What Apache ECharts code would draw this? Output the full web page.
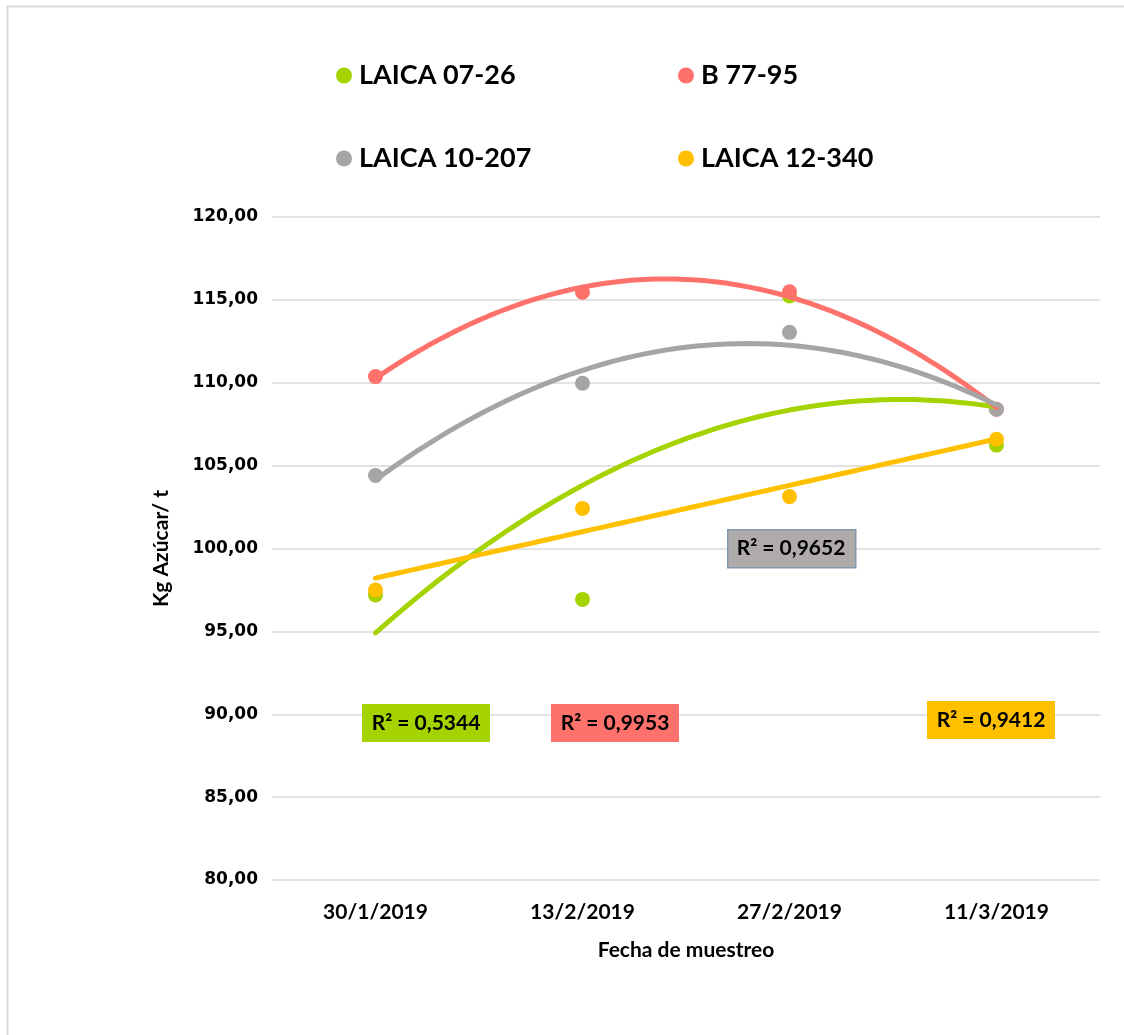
<!DOCTYPE html>
<html>
<head>
<meta charset="utf-8">
<script src="https://cdn.jsdelivr.net/npm/echarts@6/dist/echarts.min.js"></script>
<style>
  html, body { margin: 0; padding: 0; background: #fff; overflow: hidden; }
  #chart { width: 1124px; height: 1035px; }
</style>
</head>
<body>
<div id="chart"></div>
<script>
// fechas de muestreo
var fechas = ["30/1/2019", "13/2/2019", "27/2/2019", "11/3/2019"];
// Kg azúcar / t por variedad
var laica0726 = [97.2, 96.93, 115.23, 106.24];
var b7795 = [110.37, 115.46, 115.49, 108.4];
var laica10207 = [104.4, 109.97, 113.04, 108.4];
var laica12340 = [97.5, 102.42, 103.13, 106.59];
var nombres = ["LAICA 07-26", "B 77-95", "LAICA 10-207", "LAICA 12-340"];
var colores = ["#a5d300", "#ff716b", "#a5a5a5", "#ffc000"];
var r2 = ["R² = 0,5344", "R² = 0,9953", "R² = 0,9652", "R² = 0,9412"];
var yTicks = { min: 80, max: 120, interval: 5 };

// ajuste por mínimos cuadrados (como la línea de tendencia de Excel)
function ajuste(ys, grado) {
  var n = grado + 1, A = [], b = [];
  for (var i = 0; i < n; i++) {
    A.push([]);
    b.push(0);
    for (var j = 0; j < n; j++) {
      var s = 0;
      for (var k = 0; k < ys.length; k++) s += Math.pow(k, i + j);
      A[i].push(s);
    }
    for (var k = 0; k < ys.length; k++) b[i] += Math.pow(k, i) * ys[k];
  }
  // eliminación gaussiana
  for (var i = 0; i < n; i++) {
    for (var r = i + 1; r < n; r++) {
      var f = A[r][i] / A[i][i];
      for (var c = i; c < n; c++) A[r][c] -= f * A[i][c];
      b[r] -= f * b[i];
    }
  }
  var coef = new Array(n);
  for (var i = n - 1; i >= 0; i--) {
    var s = b[i];
    for (var c = i + 1; c < n; c++) s -= A[i][c] * coef[c];
    coef[i] = s / A[i][i];
  }
  var pts = [];
  for (var t = 0; t <= ys.length - 1 + 1e-9; t += 0.05) {
    var y = 0;
    for (var i = 0; i < n; i++) y += coef[i] * Math.pow(t, i);
    pts.push([t, y]);
  }
  return pts;
}

var datos = [laica0726, b7795, laica10207, laica12340];
var grados = [2, 2, 2, 1];

var series = [];
datos.forEach(function (d, i) {
  series.push({
    name: nombres[i],
    type: "scatter",
    xAxisIndex: 0,
    symbol: "circle",
    symbolSize: 15,
    itemStyle: { color: colores[i], opacity: 1 },
    data: d,
    z: 2,
  });
});
datos.forEach(function (d, i) {
  series.push({
    name: nombres[i] + " tendencia",
    type: "line",
    xAxisIndex: 1,
    showSymbol: false,
    lineStyle: { color: colores[i], width: 5, cap: "round" },
    data: ajuste(d, grados[i]),
    z: 3,
  });
});

// cajas de R²
var cajas = [
  { x: 362, y: 704, w: 128, h: 38, fill: colores[0], stroke: null, t: r2[0] },
  { x: 551, y: 704, w: 128, h: 38, fill: colores[1], stroke: null, t: r2[1] },
  { x: 727, y: 529, w: 128, h: 38, fill: "#afabab", stroke: "#8497b0", t: r2[2] },
  { x: 927, y: 701, w: 128, h: 38, fill: colores[3], stroke: null, t: r2[3] },
];
var graficos = [
  {
    type: "rect",
    left: 5,
    top: 4,
    shape: { width: 3000, height: 3000 },
    style: { fill: "none", stroke: "#d9d9d9", lineWidth: 2 },
  },
];
cajas.forEach(function (c) {
  graficos.push({
    type: "rect",
    left: c.x,
    top: c.y,
    z: 10,
    shape: { width: c.w, height: c.h },
    style: { fill: c.fill, stroke: c.stroke || "none", lineWidth: c.stroke ? 1.5 : 0 },
  });
  graficos.push({
    type: "text",
    x: c.x + c.w / 2,
    y: c.y + c.h / 2,
    z: 11,
    style: {
      text: c.t,
      fill: "#000",
      font: "bold 21px Lato",
      align: "center",
      verticalAlign: "middle",
    },
  });
});

var legendPos = [
  { left: 331, top: 57 },
  { left: 673, top: 57 },
  { left: 331, top: 140 },
  { left: 673, top: 140 },
];
var leyendas = nombres.map(function (n, i) {
  return {
    data: [n],
    left: legendPos[i].left,
    top: legendPos[i].top,
    icon: "circle",
    itemWidth: 16,
    itemHeight: 16,
    itemGap: 0,
    selectedMode: false,
    itemStyle: { opacity: 1 },
    textStyle: { fontFamily: "Lato", fontWeight: "bold", fontSize: 27, color: "#000", padding: [0, 0, 0, 2] },
  };
});

var chart = echarts.init(document.getElementById("chart"));
var option = {
  backgroundColor: "#fff",
  animation: false,
  legend: leyendas,
  graphic: graficos,
  grid: { left: 272, right: 24, top: 217, bottom: 155 },
  xAxis: [
    {
      type: "category",
      data: fechas,
      name: "Fecha de muestreo",
      nameLocation: "middle",
      nameGap: 60,
      nameTextStyle: { fontFamily: "Lato", fontWeight: "bold", fontSize: 21, color: "#000" },
      axisLine: { show: false },
      axisTick: { show: false },
      axisLabel: { margin: 22, fontFamily: "Lato", fontWeight: "bold", fontSize: 21, color: "#000" },
    },
    { type: "value", min: -0.5, max: 3.5, show: false },
  ],
  yAxis: {
    type: "value",
    min: yTicks.min,
    max: yTicks.max,
    interval: yTicks.interval,
    name: "Kg Azúcar/ t",
    nameLocation: "middle",
    nameGap: 100,
    nameTextStyle: { fontFamily: "Lato", fontWeight: "bold", fontSize: 21, color: "#000" },
    axisLine: { show: false },
    axisTick: { show: false },
    splitLine: { lineStyle: { color: "#d9d9d9", width: 1.5 } },
    axisLabel: {
      margin: 14,
      fontFamily: "DejaVu Sans",
      fontWeight: "bold",
      fontSize: 17,
      color: "#000",
      formatter: function (v) {
        return v.toFixed(2).replace(".", ",");
      },
    },
  },
  series: series,
};
chart.setOption(option);
</script>
</body>
</html>
